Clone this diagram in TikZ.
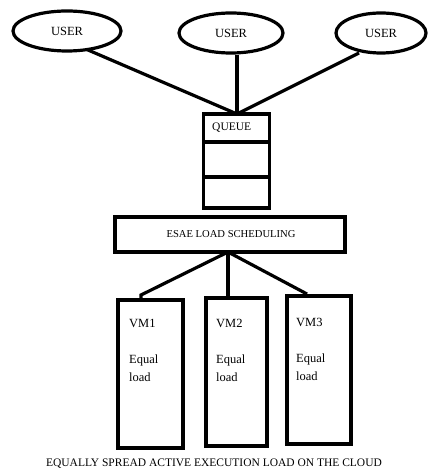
\documentclass[tikz,border=0pt]{standalone}
\usepackage{fontspec}
\setmainfont{Liberation Serif}
\usetikzlibrary{shapes.geometric}
\begin{document}
\begin{tikzpicture}[x=1pt,y=-1pt,
  lw/.style={line width=3.2pt},
  user/.style={ellipse,draw,lw,inner sep=0pt,font=\fontsize{12.5}{14}\selectfont},
  box/.style={draw,lw,inner sep=0pt},
  vm/.style={draw,lw,inner sep=0pt,minimum height=148pt},
  txt/.style={font=\fontsize{12.5}{18}\selectfont,inner sep=0pt,align=left,anchor=north west},
  conn/.style={lw}]
\useasboundingbox (0,0) rectangle (429,470);
\node[user,minimum width=108pt,minimum height=40pt] (u1) at (67,31) {USER};
\node[user,minimum width=104pt,minimum height=40pt] (u2) at (231,33) {USER};
\node[user,minimum width=90pt,minimum height=40pt] (u3) at (381,33) {USER};
% queue
\node[box,minimum width=66pt,minimum height=28pt] (q1) at (236.5,128) {};
\node[box,minimum width=66pt,minimum height=35pt] (q2) at (236.5,159.5) {};
\node[box,minimum width=66pt,minimum height=31pt] (q3) at (236.5,192.5) {};
\node[inner sep=0pt,anchor=west,font=\fontsize{11.5}{13}\selectfont] (qt) at (212,128) {QUEUE};
\coordinate (qtop) at (237,114);
\draw[conn] (u1.south east) ++(-20,3) coordinate (a1) (a1) -- (qtop);
\draw[conn] (u2.south -| qtop) -- (qtop);
\draw[conn] (u3) ++(-22,20) coordinate (a3) (a3) -- (qtop);
% scheduler
\node[box,minimum width=230pt,minimum height=35pt] (s) at (230,234.5) {};
\node[font=\fontsize{10.6}{12}\selectfont,inner sep=0pt] (st) at (231,234.5) {ESAE LOAD SCHEDULING};
\coordinate (sb) at (228,252);
% vms
\node[vm,minimum width=65pt] (v1) at (150.5,374) {};
\node[vm,minimum width=61pt] (v2) at (236.5,372) {};
\node[vm,minimum width=64pt] (v3) at (319,370) {};
\node[txt] (t1) at (129,319) {VM1\\[18pt]Equal\\load};
\node[txt] (t2) at (216,319) {VM2\\[18pt]Equal\\load};
\node[txt] (t3) at (296,318) {VM3\\[18pt]Equal\\load};
\draw[conn] (sb) -- (141,295) -- (141,300);
\draw[conn] (sb) -- (sb |- v2.north);
\draw[conn] (sb) -- (307,294);
\node[font=\fontsize{11.5}{13}\selectfont,inner sep=0pt] (cap) at (214,464) {EQUALLY SPREAD ACTIVE EXECUTION LOAD ON THE CLOUD};
\end{tikzpicture}
\end{document}
